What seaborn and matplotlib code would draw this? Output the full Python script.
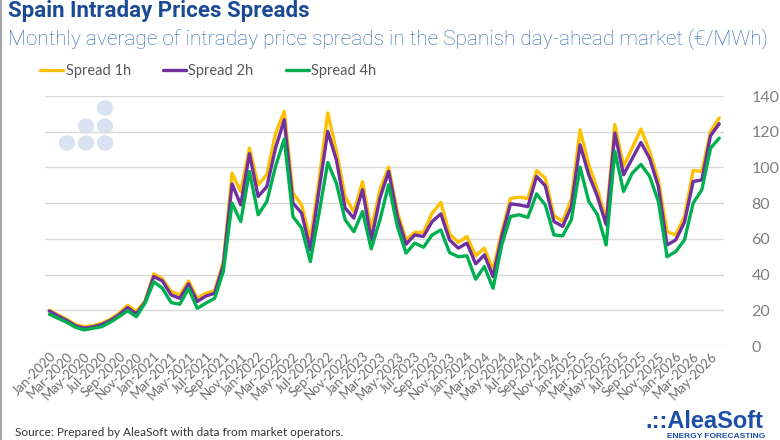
import numpy as np
import pandas as pd
import seaborn as sns
import matplotlib.pyplot as plt
from matplotlib.patches import Ellipse
from matplotlib.lines import Line2D

# monthly values, Jan-2020 .. Jun-2026
months = pd.date_range("2020-01-01", "2026-06-01", freq="MS")

spread_1h = [
    20, 17.4, 15, 12, 10.8, 11.4, 12.7, 15, 18.3, 22.8, 19.3, 25.2,
    40.4, 37.6, 30.5, 28.6, 36.4, 26.7, 29.5, 31, 47.3, 96.8, 86.5, 110.8,
    90.3, 95.9, 119, 131.4, 85.6, 79, 59.4, 93, 130.5, 109, 83.7, 75,
    92, 65, 87.5, 100.2, 75.3, 59.4, 63.7, 63.6, 74.4, 80.4, 62.8, 58,
    61.3, 50.5, 54.8, 42.6, 64, 82.6, 83.4, 82.6, 98.3, 94, 73, 69.7,
    82.4, 121, 101.5, 87.5, 70.7, 124, 100.7, 111, 121.5, 109, 93, 64,
    62.2, 72.5, 98.3, 97.8, 120.2, 127.7,
]
spread_2h = [
    19.6, 16.8, 14.3, 11.3, 10, 10.7, 12, 14.3, 17.5, 21.5, 18, 24.6,
    38.9, 36.4, 28.6, 26.7, 34.8, 24.9, 28, 29.5, 45.4, 90.8, 79, 107.7,
    83.7, 89.3, 110.8, 126.7, 80, 74.4, 53.8, 87.5, 120.2, 104, 77.2, 71.6,
    87.5, 59.4, 82.8, 97.8, 72.5, 57, 62.2, 61.3, 69.7, 74, 59.4, 54.8,
    57.6, 46, 51, 38.9, 61.3, 79.6, 79, 78, 95, 89.7, 69.7, 67,
    78, 112.7, 95.9, 83.7, 67.9, 119.3, 95.9, 105, 114, 105, 89.3, 56.6,
    59.4, 69.3, 92.1, 93, 117.8, 124.5,
]
spread_4h = [
    17.8, 15.5, 13.3, 10.5, 9, 9.9, 10.8, 13.3, 16.4, 19.8, 16.4, 24,
    36, 32.3, 24.3, 23.4, 32.3, 21.1, 24, 26.7, 41.7, 80, 69.7, 97.8,
    73.5, 80.9, 100.6, 115.9, 72.5, 66, 47.3, 74.4, 102.8, 91, 70.7, 64,
    75.3, 54.4, 70.7, 90.3, 67, 52, 57.6, 55.3, 62.2, 65, 52.3, 50,
    50.5, 37.4, 44.5, 32.3, 56.6, 72.5, 73.5, 72, 85.2, 79, 62.2, 61.7,
    70.7, 100.2, 81, 73.5, 56.6, 109, 86.5, 96.8, 101.7, 95, 81, 50,
    52.9, 59.4, 80, 87.5, 110.8, 116.4,
]

series_names = ["Spread 1h", "Spread 2h", "Spread 4h"]
colors = ["#FFC000", "#7030A0", "#00B050"]
month_labels = [m.strftime("%b-%Y") for m in months]

df = pd.DataFrame({
    "idx": np.arange(len(months)),
    "Spread 1h": spread_1h,
    "Spread 2h": spread_2h,
    "Spread 4h": spread_4h,
}).melt(id_vars="idx", var_name="series", value_name="value")

sns.set_style("white")
plt.rcParams["font.family"] = ["Lato", "DejaVu Sans"]

fig = plt.figure(figsize=(7.8, 4.4), dpi=100)
ax = fig.add_axes([45 / 780, 1 - 346 / 440, 678.6 / 780, 250 / 440])

# watermark dots
for cx, cy in [(67, 143), (86, 143), (105, 143), (86, 126), (105, 126), (105, 108)]:
    fig.add_artist(Ellipse((cx / 780, 1 - cy / 440), 15 / 780, 14 / 440,
                           transform=fig.transFigure, color="#D9E2F1", zorder=0))

sns.lineplot(data=df, x="idx", y="value", hue="series", palette=colors,
             hue_order=series_names, linewidth=2.4, ax=ax, legend=False)

ax.set_xlim(-0.5, len(months) - 0.5)
ax.set_ylim(0, 140)
ax.set_yticks(range(0, 141, 20))
ax.yaxis.tick_right()
ax.tick_params(axis="y", length=0, pad=20, labelsize=11.5, labelcolor="#7F7F7F")
ax.set_xticks(range(0, len(months), 2))
ax.set_xticklabels(month_labels[::2], rotation=45, ha="right",
                   rotation_mode="anchor", fontsize=9.5, color="#6E6E6E")
ax.tick_params(axis="x", length=0, pad=3)
ax.grid(axis="y", color="#D9D9D9", linewidth=1)
ax.set_axisbelow(True)
for s in ax.spines.values():
    s.set_visible(False)
ax.set_xlabel("")
ax.set_ylabel("")
ax.patch.set_alpha(0)

handles = [Line2D([], [], color=c, linewidth=2.4) for c in colors]
fig.legend(handles, series_names, loc="center left", bbox_to_anchor=(27 / 780, 1 - 71 / 440),
           ncol=3, frameon=False, handlelength=1.6, handletextpad=0.15, columnspacing=2.2,
           prop={"family": "Lato", "size": 10.5}, labelcolor="#595959")

fig.text(8 / 780, 1 - 17 / 440, "Spain Intraday Prices Spreads", fontsize=16,
         fontweight="bold", color="#1C4B95", family="Roboto")
fig.text(8 / 780, 1 - 44 / 440,
         "Monthly average of intraday price spreads in the Spanish day-ahead market (\u20ac/MWh)",
         fontsize=15, color="#2F64AE", family="Roboto", fontweight="light")
fig.text(15 / 780, 1 - 436 / 440,
         "Source: Prepared by AleaSoft with data from market operators.",
         fontsize=8.5, color="#333333")
fig.text(645 / 780, 1 - 428 / 440, ".::AleaSoft", fontsize=17, fontweight="bold",
         color="#1E4FA8", family="Liberation Sans")
fig.text(765 / 780, 1 - 440 / 440, "ENERGY FORECASTING", fontsize=6, fontweight="bold",
         color="#1E4FA8", ha="right", va="bottom", family="Liberation Sans")

fig.add_artist(Line2D([0.5 / 780, 0.5 / 780], [0, 1], color="#A6A6A6", linewidth=1.5,
                      transform=fig.transFigure))

fig.savefig("out.png", dpi=100)
